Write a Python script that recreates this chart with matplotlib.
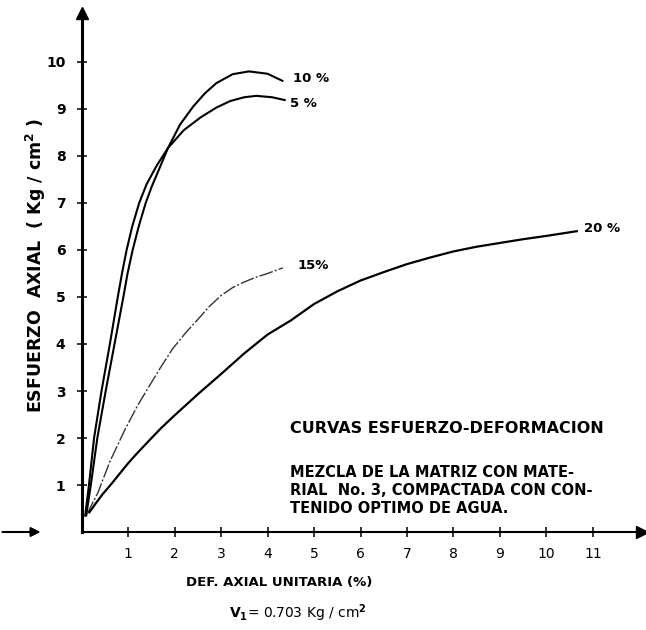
from matplotlib import pyplot as plt

# strain (%) / axial stress (Kg/cm2) readings for each water content
x_5 = [0.08, 0.16, 0.27, 0.43, 0.61, 0.78, 0.87, 0.97, 1.09, 1.24, 1.40, 1.62, 1.86,
	   2.20, 2.56, 2.90, 3.20, 3.50, 3.76, 4.10, 4.37]
y_5 = [0.35, 1.00, 2.00, 3.00, 4.00, 5.00, 5.50, 6.00, 6.50, 7.00, 7.40, 7.80, 8.17,
	   8.55, 8.82, 9.03, 9.17, 9.25, 9.28, 9.25, 9.19]

x_10 = [0.10, 0.20, 0.34, 0.52, 0.71, 0.90, 0.99, 1.10, 1.23, 1.38, 1.51, 1.66, 1.86,
		2.12, 2.40, 2.65, 2.90, 3.25, 3.60, 4.00, 4.32]
y_10 = [0.35, 1.00, 2.00, 3.00, 4.00, 5.00, 5.50, 6.00, 6.50, 7.00, 7.35, 7.70, 8.17,
		8.67, 9.05, 9.33, 9.55, 9.74, 9.80, 9.75, 9.60]

x_15 = [0.12, 0.22, 0.35, 0.61, 0.93, 1.20, 1.43, 1.70, 1.96, 2.25, 2.50, 2.75,
		3.00, 3.25, 3.50, 3.75, 4.00, 4.33]
y_15 = [0.38, 0.58, 0.83, 1.50, 2.17, 2.68, 3.06, 3.50, 3.90, 4.25, 4.52, 4.80,
		5.03, 5.20, 5.32, 5.42, 5.50, 5.62]

x_20 = [0.17, 0.30, 0.45, 0.64, 0.82, 1.00, 1.20, 1.43, 1.70, 2.00, 2.50, 3.00, 3.50,
		4.00, 4.50, 5.00, 5.50, 6.00, 6.50, 7.00, 7.50, 8.00, 8.50, 9.00, 9.50, 10.00,
		10.65]
y_20 = [0.42, 0.60, 0.80, 1.02, 1.24, 1.46, 1.68, 1.92, 2.20, 2.48, 2.93, 3.36, 3.80,
		4.20, 4.50, 4.85, 5.12, 5.35, 5.53, 5.70, 5.84, 5.97, 6.07, 6.15, 6.23, 6.30,
		6.40]

labels = ["5 %", "10 %", "15%", "20 %"]
x_ticks = list(range(1, 12))
y_ticks = list(range(1, 11))

notes = ["MEZCLA DE LA MATRIZ CON MATE-",
		 "RIAL  No. 3, COMPACTADA CON CON-",
		 "TENIDO OPTIMO DE AGUA."]

plt.rcParams['font.family'] = ['DejaVu Sans']

fig = plt.figure(figsize=(6.46, 6.30), dpi=100)
ax = fig.add_axes([0, 0, 1, 1])
ax.set_xlim(-1.753, 12.140)
ax.set_ylim(-2.085, 11.319)

# axes drawn through the origin, like the hand-drawn frame
for side in ['top', 'right']:
	ax.spines[side].set_visible(False)
ax.spines['left'].set_position(('data', 0))
ax.spines['bottom'].set_position(('data', 0))
ax.spines['left'].set_bounds(0, 11.0)
ax.spines['bottom'].set_bounds(0, 12.0)
ax.spines['left'].set_linewidth(2.2)
ax.spines['bottom'].set_linewidth(1.5)

ax.set_xticks(x_ticks)
ax.set_yticks(y_ticks)
ax.tick_params(axis='both', direction='inout', length=7, width=1.1)
ax.tick_params(axis='y', pad=8, labelsize=10)
ax.tick_params(axis='x', pad=7, labelsize=10)
for t in ax.get_yticklabels():
	t.set_fontweight('bold')

# arrow heads at the ends of the axes, plus the short arrow on the left
ax.plot([0], [11.05], marker='^', color='black', markersize=8, clip_on=False)
ax.plot([12.05], [0], marker='>', color='black', markersize=8, clip_on=False)
ax.annotate("", xy=(-0.82, 0), xytext=(-1.76, 0),
			arrowprops=dict(arrowstyle='-|>', color='black', lw=1.5,
							mutation_scale=14))

# curves
ax.plot(x_10, y_10, color='black', lw=1.5)
ax.plot(x_5, y_5, color='black', lw=1.5)
ax.plot(x_15, y_15, color='#333333', lw=1.0, linestyle=(0, (10, 1.5, 1.5, 1.5)))
ax.plot(x_20, y_20, color='black', lw=1.6)

lab_font = dict(fontsize=9.5, fontweight='bold', va='center', ha='left')
ax.text(x_5[-1] + 0.12, y_5[-1] - 0.08, labels[0], **lab_font)
ax.text(x_10[-1] + 0.22, y_10[-1] + 0.05, labels[1], **lab_font)
ax.text(x_15[-1] + 0.32, y_15[-1] + 0.06, labels[2], **lab_font)
ax.text(x_20[-1] + 0.15, y_20[-1] + 0.05, labels[3], **lab_font)

# axis titles
ax.text(-0.99, 5.68, "ESFUERZO  AXIAL  ( Kg / cm$^\\mathbf{2}$ )", rotation=90,
		fontsize=12.5, fontweight='bold', ha='center', va='center')
ax.text(4.26, -1.085, "DEF. AXIAL UNITARIA (%)", fontsize=9.5, fontweight='bold',
		ha='center', va='center')
ax.text(4.65, -1.72, "$\\mathbf{V_1}$= 0.703 Kg / cm$^\\mathbf{2}$", fontsize=10,
		ha='center', va='center')

# description block
ax.text(4.49, 2.21, "CURVAS ESFUERZO-DEFORMACION", fontsize=11.5, fontweight='bold',
		ha='left', va='center')
for i, line in enumerate(notes):
	ax.text(4.49, 1.27 - i * 0.385, line, fontsize=10.5, fontweight='bold',
			ha='left', va='center')

fig.savefig("out.png", dpi=100)
plt.close()
